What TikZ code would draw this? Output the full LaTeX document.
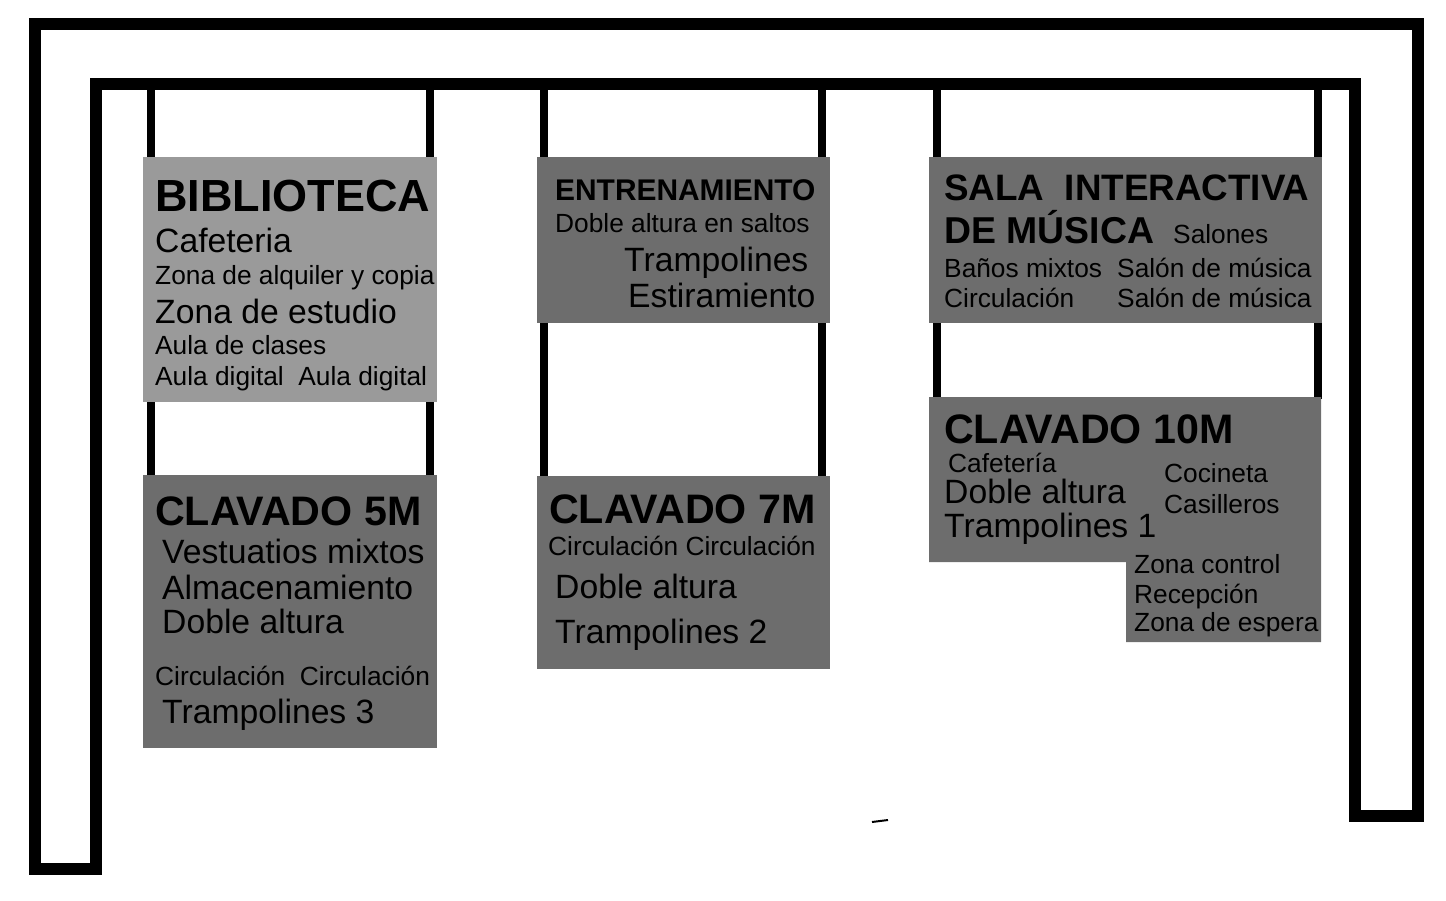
\documentclass[tikz,border=0pt]{standalone}
\usepackage{fontspec}
\setmainfont{Liberation Sans}
\definecolor{lightbox}{HTML}{9A9A9A}
\definecolor{darkbox}{HTML}{6D6D6D}
\begin{document}
\begin{tikzpicture}[x=1pt,y=-1pt,
  frame/.style={line width=12pt,line join=miter},
  rod/.style={line width=8pt},
  lbox/.style={fill=lightbox},
  dbox/.style={fill=darkbox},
  lab/.style={anchor=base west,inner sep=0pt,text=black},
  sm/.style={lab,font=\fontsize{26.3}{26}\selectfont},
  md/.style={lab,font=\fontsize{33.7}{33}\selectfont},
  bgt/.style={lab,font=\fontsize{41.2}{41}\selectfont\bfseries},
]
\useasboundingbox (0,0) rectangle (1446,900);
% frame
\draw[frame] (34.5,868.5) -- (34.5,24) -- (1418,24) -- (1418,816) -- (1354.5,816) -- (1354.5,83.5) -- (96,83.5) -- (96,868.5) -- cycle;
\draw[line width=2pt] (872,822) -- (888,820);
% rods
\foreach \x in {151,430,544,822,937,1317.5}{\draw[rod] (\x,89) -- (\x,160);}
\foreach \x in {151,430}{\draw[rod] (\x,400) -- (\x,478);}
\foreach \x in {544,822}{\draw[rod] (\x,320) -- (\x,478);}
\foreach \x in {937,1317.5}{\draw[rod] (\x,320) -- (\x,399);}
% boxes
\path[lbox] (143,157) rectangle (437,402);
\path[dbox] (143,475) rectangle (437,748);
\path[dbox] (537,157) rectangle (830,323);
\path[dbox] (537,476) rectangle (830,669);
\path[dbox] (929,157) rectangle (1322,323);
\path[dbox] (929,397) -- (1321,397) -- (1321,642) -- (1126,642) -- (1126,562) -- (929,562) -- cycle;
% BIBLIOTECA
\node[lab,font=\fontsize{45}{45}\selectfont\bfseries] (b0) at (155,211) {BIBLIOTECA};
\node[md] (b1) at (155,252) {Cafeteria};
\node[sm] (b2) at (155,284) {Zona de alquiler y copia};
\node[md] (b3) at (155,323) {Zona de estudio};
\node[sm] (b4) at (155,354) {Aula de clases};
\node[sm] (b5) at (155,385) {Aula digital\ \ Aula digital};
% CLAVADO 5M
\node[bgt] (c0) at (155,525) {CLAVADO 5M};
\node[md] (c1) at (162,563) {Vestuatios mixtos};
\node[md] (c2) at (162,599) {Almacenamiento};
\node[md] (c3) at (162,633) {Doble altura};
\node[sm] (c4) at (155,685) {Circulación\ \ Circulación};
\node[md] (c5) at (162,723) {Trampolines 3};
% ENTRENAMIENTO
\node[lab,font=\fontsize{29.9}{30}\selectfont\bfseries] (e0) at (555,200) {ENTRENAMIENTO};
\node[sm] (e1) at (555,232) {Doble altura en saltos};
\node[md] (e2) at (624,271) {Trampolines};
\node[md] (e3) at (628,307) {Estiramiento};
% CLAVADO 7M
\node[bgt] (f0) at (549,523) {CLAVADO 7M};
\node[sm] (f1) at (548,555) {Circulación Circulación};
\node[md] (f2) at (555,598) {Doble altura};
\node[md] (f3) at (555,643) {Trampolines 2};
% SALA
\node[lab,font=\fontsize{36.8}{37}\selectfont\bfseries] (s0) at (944,200) {SALA\ \ INTERACTIVA};
\node[lab,font=\fontsize{37.4}{37}\selectfont\bfseries] (s1) at (944,243) {DE MÚSICA};
\node[sm] (s2) at (1173,243) {Salones};
\node[sm] (s3) at (944,277) {Baños mixtos};
\node[sm] (s4) at (1117,277) {Salón de música};
\node[sm] (s5) at (944,307) {Circulación};
\node[sm] (s6) at (1117,307) {Salón de música};
% CLAVADO 10M
\node[bgt] (g0) at (944,443) {CLAVADO 10M};
\node[sm] (g1) at (948,472) {Cafetería};
\node[md] (g2) at (944,503) {Doble altura};
\node[md] (g3) at (944,537) {Trampolines 1};
\node[sm] (g4) at (1164,482) {Cocineta};
\node[sm] (g5) at (1164,513) {Casilleros};
\node[sm] (g6) at (1134,573) {Zona control};
\node[sm] (g7) at (1134,603) {Recepción};
\node[sm] (g8) at (1134,631) {Zona de espera};
\end{tikzpicture}
\end{document}
